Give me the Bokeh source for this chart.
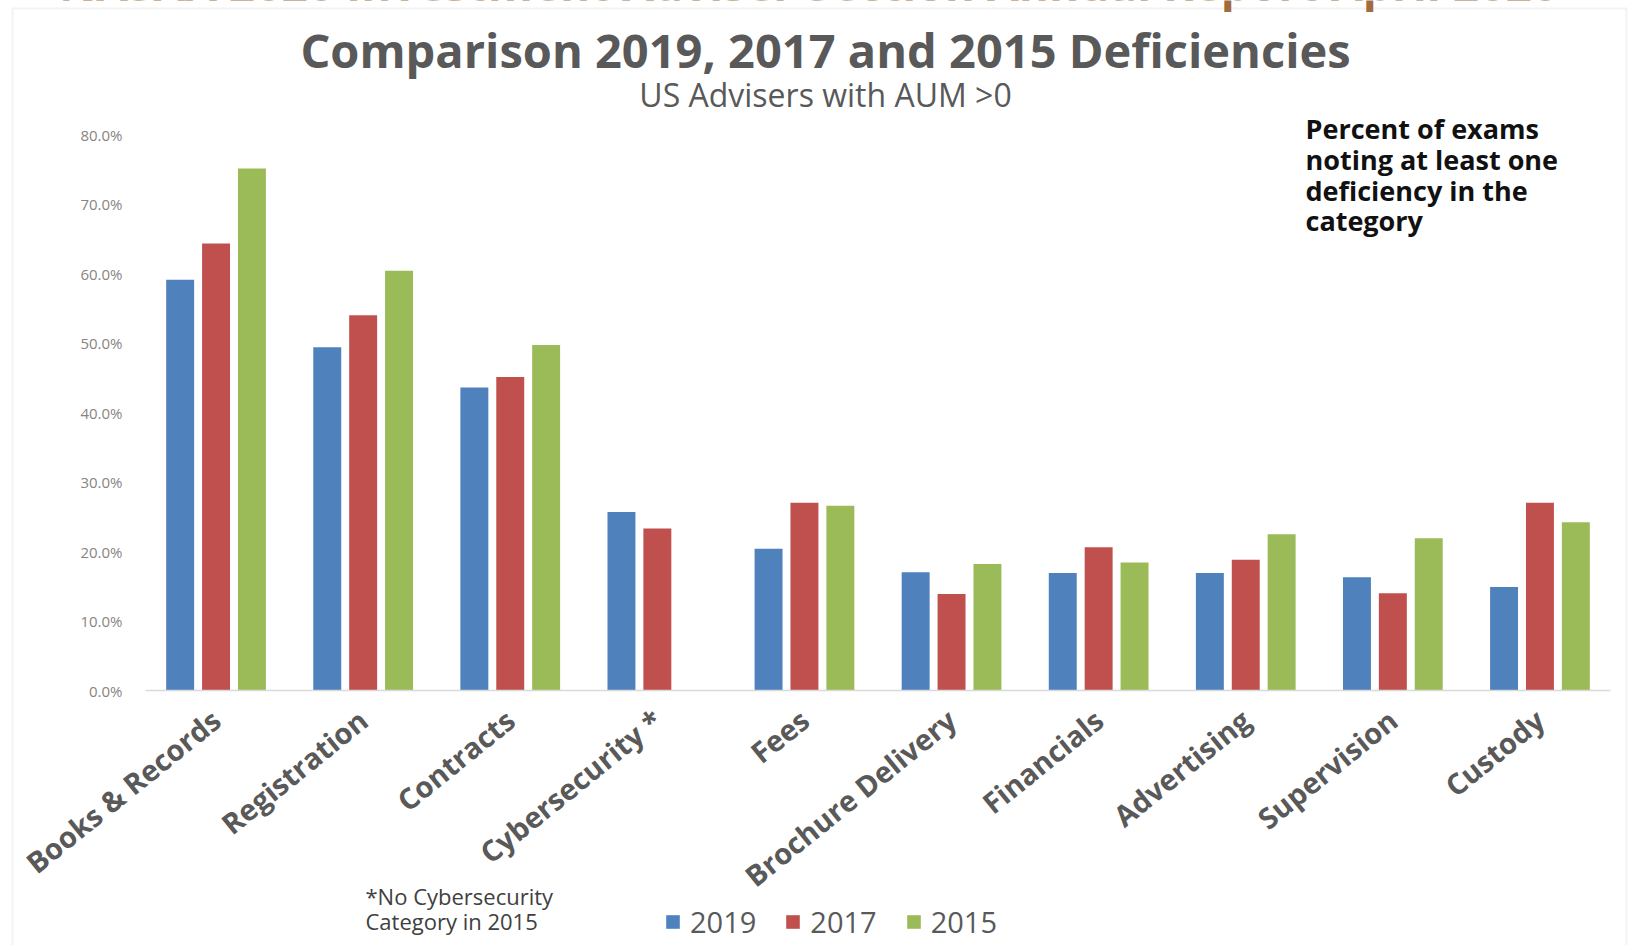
from bokeh.plotting import figure
from bokeh.models import (ColumnDataSource, Range1d, Label, Legend, LegendItem,
                          NumeralTickFormatter, FixedTicker, BoxAnnotation)
from bokeh.embed import file_html
from bokeh.resources import INLINE

categories = ["Books & Records", "Registration", "Contracts", "Cybersecurity *", "Fees",
              "Brochure Delivery", "Financials", "Advertising", "Supervision", "Custody"]
y2019 = [0.591, 0.494, 0.436, 0.257, 0.204, 0.170, 0.169, 0.169, 0.163, 0.149]
y2017 = [0.643, 0.540, 0.451, 0.233, 0.270, 0.139, 0.206, 0.188, 0.140, 0.270]
# no Cybersecurity category in 2015
cats2015 = ["Books & Records", "Registration", "Contracts", "Fees",
            "Brochure Delivery", "Financials", "Advertising", "Supervision", "Custody"]
y2015 = [0.751, 0.604, 0.497, 0.266, 0.182, 0.184, 0.225, 0.219, 0.242]
y_ticks = [0.0, 0.1, 0.2, 0.3, 0.4, 0.5, 0.6, 0.7, 0.8]

C19, C17, C15 = "#4F81BD", "#C0504D", "#9BBB59"
GREY = "#595959"
FONT = "Open Sans"

W, H = 1629, 945
FL, FR, FT, FB = 142, 1613, 134, 690      # plot area edges (canvas px)
UNIT = (FR - FL) / len(categories)        # px per category
YPX = (FB - FT) / 0.8                     # px per 1.0 of value


def xd(cx):  # canvas px -> data x
    return -0.5 + (cx - FL) / UNIT


def yd(cy):  # canvas px -> data y
    return (FB - cy) / YPX


p = figure(width=W, height=H, x_range=Range1d(xd(0), xd(W)), y_range=Range1d(yd(H), yd(0)),
           output_backend="svg", toolbar_location=None,
           min_border_left=0, min_border_right=0, min_border_top=0, min_border_bottom=0)
p.outline_line_color = None
p.xgrid.grid_line_color = None
p.ygrid.grid_line_color = None

idx = list(range(len(categories)))
pos = {c: i for i, c in enumerate(categories)}
off = 0.244
bw = 0.19
src = ColumnDataSource(dict(x19=[i - off for i in idx], x17=idx, y19=y2019, y17=y2017))
src15 = ColumnDataSource(dict(x15=[pos[c] + off for c in cats2015], y15=y2015))

r19 = p.vbar(x="x19", top="y19", width=bw, source=src, fill_color=C19, line_color=None)
r17 = p.vbar(x="x17", top="y17", width=bw, source=src, fill_color=C17, line_color=None)
r15 = p.vbar(x="x15", top="y15", width=bw, source=src15, fill_color=C15, line_color=None)

# y axis drawn at the left edge of the plot area
yax = p.yaxis[0]
yax.fixed_location = -0.5
yax.bounds = (0, 0.8)
yax.ticker = FixedTicker(ticks=y_ticks)
yax.formatter = NumeralTickFormatter(format="0.0%")
yax.axis_line_color = None
yax.major_tick_line_color = None
yax.minor_tick_line_color = None
yax.major_label_text_font = FONT
yax.major_label_text_font_size = "15px"
yax.major_label_text_color = "#858585"
yax.major_label_standoff = 14

# x axis drawn at zero
xax = p.xaxis[0]
xax.fixed_location = 0
xax.bounds = (-0.48, 9.48)
xax.ticker = FixedTicker(ticks=idx)
xax.major_label_overrides = {i: c for i, c in enumerate(categories)}
xax.axis_line_color = "#D9D9D9"
xax.axis_line_width = 1.5
xax.major_tick_line_color = None
xax.minor_tick_line_color = None
xax.major_label_orientation = 0.68
xax.major_label_text_font = FONT
xax.major_label_text_font_size = "29px"
xax.major_label_text_font_style = "bold"
xax.major_label_text_color = GREY
xax.major_label_standoff = 19


def lab(text, cx, cy, size, style="normal", color=GREY, align="left"):
    p.add_layout(Label(x=cx, y=H - cy, x_units="screen", y_units="screen", text=text,
                       text_font=FONT, text_font_size=size, text_font_style=style,
                       text_color=color, text_align=align, text_baseline="middle"))


# chart box border
p.add_layout(BoxAnnotation(left=xd(12), right=xd(1626), top=yd(8), bottom=yd(H + 20),
                           fill_alpha=0, line_color="#D6D6D6", line_width=2))

# cut-off page header
lab("NASAA 2020 Investment Adviser Section Annual Report April 2020", 808, -18, "46px",
    "bold", "#A26B3E", "center")
# title & subtitle
lab("Comparison 2019, 2017 and 2015 Deficiencies", 825, 49, "47px", "bold", GREY, "center")
lab("US Advisers with AUM >0", 825, 94, "32px", "normal", GREY, "center")
# annotation
for t, cy in zip(["Percent of exams", "noting at least one", "deficiency in the", "category"],
                 [128, 159, 190, 220]):
    lab(t, 1305, cy, "27px", "bold", "#111111")
# footnote
lab("*No Cybersecurity", 365, 895, "22px", "normal", "#404040")
lab("Category in 2015", 365, 920, "22px", "normal", "#404040")

legend = Legend(items=[LegendItem(label="2019", renderers=[r19]),
                       LegendItem(label="2017", renderers=[r17]),
                       LegendItem(label="2015", renderers=[r15])],
                orientation="horizontal", location=(664, H - 922 - 19),
                padding=0, margin=0, spacing=28, label_standoff=9,
                glyph_width=17, glyph_height=17, label_height=17,
                border_line_color=None, background_fill_alpha=0,
                label_text_font=FONT, label_text_font_size="29px", label_text_color=GREY)
p.add_layout(legend, "center")

open("out.html", "w").write(file_html(p, INLINE))
